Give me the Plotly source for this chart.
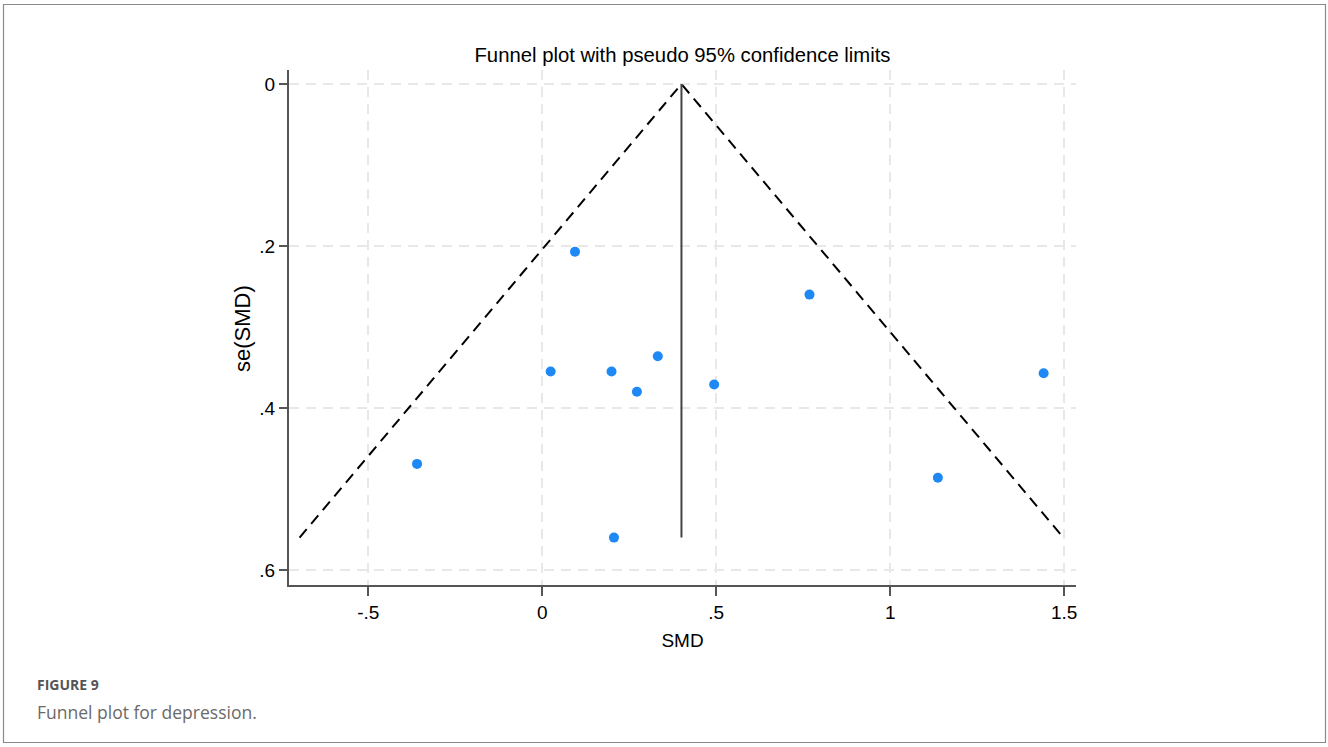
import plotly.graph_objects as go

# ---- data ----
smd = [0.094, 0.024, 0.199, 0.272, 0.332, 0.494, 0.768, 1.441, -0.360, 1.137, 0.206]
se_smd = [0.207, 0.355, 0.355, 0.380, 0.336, 0.371, 0.260, 0.357, 0.469, 0.486, 0.560]
pooled = 0.40
se_max = 0.560
x_ticks = [-0.5, 0, 0.5, 1, 1.5]
x_ticklabels = ["-.5", "0", ".5", "1", "1.5"]
y_ticks = [0, 0.2, 0.4, 0.6]
y_ticklabels = ["0", ".2", ".4", ".6"]

W, H = 1328, 747
L, R, T, B = 289, 1076, 70, 585  # plot area in pixels

SANS = "Liberation Sans, Arial, sans-serif"

fig = go.Figure()

# pseudo 95% confidence limits
fig.add_trace(go.Scatter(
    x=[pooled - 1.96 * se_max, pooled, pooled + 1.96 * se_max],
    y=[se_max, 0, se_max],
    mode="lines", line=dict(color="black", width=2, dash="11px,7px"),
    hoverinfo="skip", showlegend=False))
# pooled estimate line
fig.add_trace(go.Scatter(
    x=[pooled, pooled], y=[0, se_max], mode="lines",
    line=dict(color="#444444", width=2), hoverinfo="skip", showlegend=False))
# studies
fig.add_trace(go.Scatter(
    x=smd, y=se_smd, mode="markers",
    marker=dict(color="#1e88f5", size=10, line=dict(width=0)),
    showlegend=False))

def px2paper_x(px):
    return (px - L) / (R - L)

def px2paper_y(py):
    return (B - py) / (B - T)

# outer frame
fig.add_shape(type="rect", xref="paper", yref="paper",
              x0=px2paper_x(3.5), x1=px2paper_x(1325.5),
              y0=px2paper_y(742.5), y1=px2paper_y(4.5),
              line=dict(color="#8a8a8a", width=1.2), fillcolor="rgba(0,0,0,0)",
              layer="below")

# caption
fig.add_annotation(xref="paper", yref="paper", x=px2paper_x(35), y=px2paper_y(684),
                   text="<b>FIGURE 9</b>", showarrow=False, xanchor="left", yanchor="middle",
                   font=dict(family="Open Sans, Lato, sans-serif", size=14, color="#555555"))
fig.add_annotation(xref="paper", yref="paper", x=px2paper_x(35), y=px2paper_y(712),
                   text="Funnel plot for depression.", showarrow=False, xanchor="left",
                   yanchor="middle",
                   font=dict(family="Open Sans, Lato, sans-serif", size=17.5, color="#6a6a6a"))

# y-axis title
fig.add_annotation(xref="paper", yref="paper", x=px2paper_x(242), y=px2paper_y(329),
                   text="se(SMD)", showarrow=False, textangle=-90,
                   xanchor="center", yanchor="middle",
                   font=dict(family=SANS, size=22, color="black"))

grid = dict(showgrid=True, gridcolor="#e8e8e8", gridwidth=1.5, griddash="10px,7px")

fig.update_layout(
    width=W, height=H,
    margin=dict(l=L, r=W - R, t=T, b=H - B),
    paper_bgcolor="white", plot_bgcolor="white",
    title=dict(text="Funnel plot with pseudo 95% confidence limits",
               x=0.5, xref="paper", y=1 - 55 / H, yanchor="middle",
               font=dict(family=SANS, size=20.3, color="black")),
    xaxis=dict(range=[-0.728, 1.534], tickvals=x_ticks, ticktext=x_ticklabels,
               showline=True, linecolor="#555555", linewidth=2,
               ticks="outside", ticklen=9, tickwidth=1.5, tickcolor="#555555",
               zeroline=False,
               tickfont=dict(family=SANS, size=19, color="black"),
               title=dict(text="SMD", standoff=12,
                          font=dict(family=SANS, size=19, color="black")),
               **grid),
    yaxis=dict(range=[0.6185, -0.0173], tickvals=y_ticks, ticktext=y_ticklabels,
               showline=True, linecolor="#555555", linewidth=2,
               ticks="outside", ticklen=8, tickwidth=1.5, tickcolor="#555555",
               zeroline=False,
               tickfont=dict(family=SANS, size=19, color="black"),
               **grid),
)

fig.write_html("out.html")
